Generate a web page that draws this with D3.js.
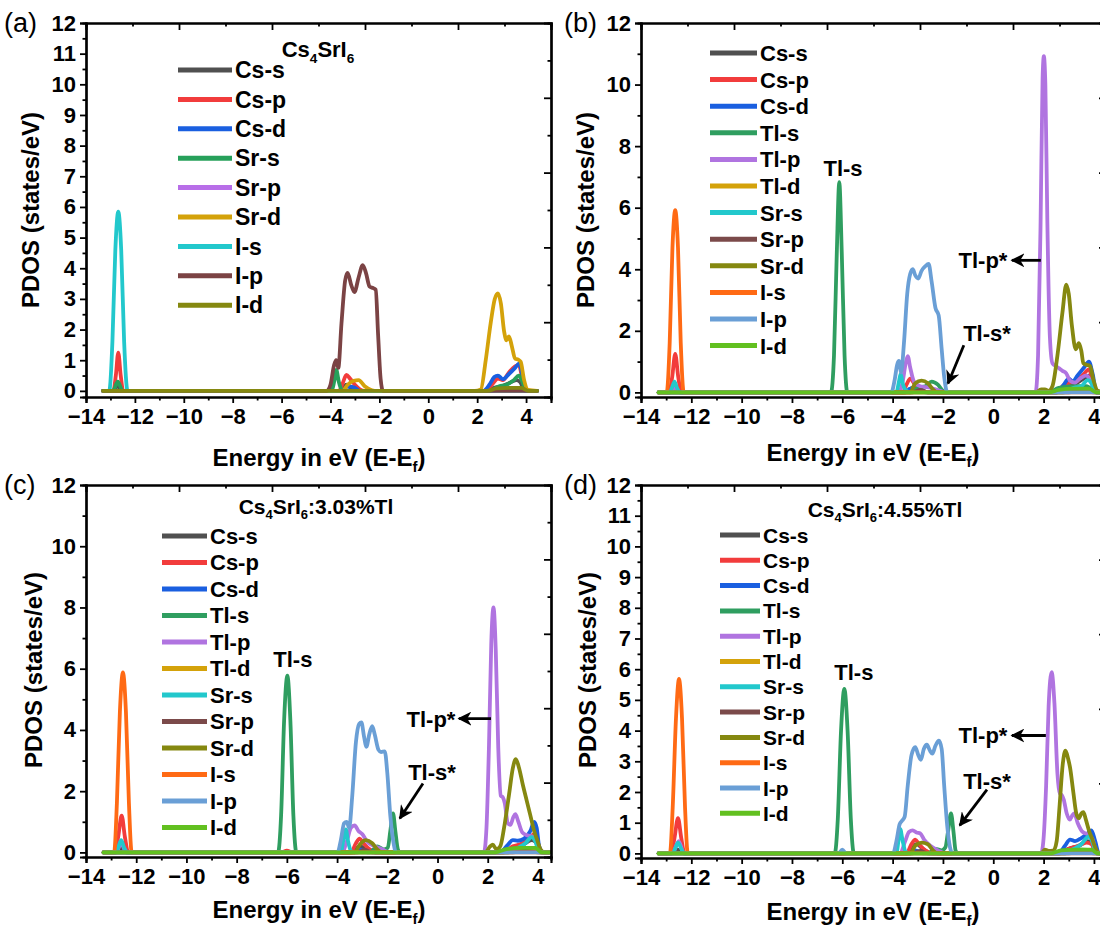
<!DOCTYPE html>
<html><head><meta charset="utf-8">
<script src="https://cdn.jsdelivr.net/npm/d3@7"></script>
<style>body{margin:0;background:#fff} svg text{font-family:Arial,"Liberation Sans",sans-serif}</style>
</head><body><svg id="c" width="1100" height="928"></svg>
<script>
// ---------- categories / tick labels ----------
const energyTicks = [-14,-12,-10,-8,-6,-4,-2,0,2,4];
const energyMinor = [-13,-11,-9,-7,-5,-3,-1,1,3];
const pdosTicks1 = [0,1,2,3,4,5,6,7,8,9,10,11,12];
const pdosTicks2 = [0,2,4,6,8,10,12];
const seriesA = ["Cs-s","Cs-p","Cs-d","Sr-s","Sr-p","Sr-d","I-s","I-p","I-d"];
const colorsA = ["#505050","#f23c3c","#1a5fe0","#26a05a","#b86ee8","#d4a20a","#22c8cc","#7b4344","#858810"];
const seriesT = ["Cs-s","Cs-p","Cs-d","Tl-s","Tl-p","Tl-d","Sr-s","Sr-p","Sr-d","I-s","I-p","I-d"];
const colorsT = ["#505050","#f23c3c","#1a5fe0","#2f9e60","#b074e0","#d4a20a","#22c8cc","#7b4a4a","#858810","#ff6a14","#6a9fd6","#62c020"];

// ---------- panel (a): Cs4SrI6 ----------
const A_CsS = [[-13.3,0],[-12.9,0],[-12.7,0.15],[-12.5,0],[-3.6,0],[-3.35,0.2],[-3.1,0.05],[-2.8,0],[2.3,0],[2.7,0.1],[3.0,0.15],[3.3,0.25],[3.6,0.35],[3.75,0.3],[3.95,0],[4.45,0]];
const A_CsP = [[-13.3,0],[-12.88,0],[-12.78,0.5],[-12.68,1.25],[-12.58,0.5],[-12.48,0],[-3.65,0],[-3.5,0.25],[-3.35,0.52],[-3.2,0.4],[-3.0,0.2],[-2.8,0.05],[-2.6,0],[2.3,0],[2.6,0.2],[2.85,0.4],[3.05,0.35],[3.3,0.6],[3.55,0.8],[3.7,0.85],[3.85,0.4],[4.0,0],[4.45,0]];
const A_CsD = [[-13.3,0],[-3.5,0],[-3.3,0.15],[-3.0,0.1],[-2.8,0],[2.25,0],[2.5,0.2],[2.7,0.45],[2.85,0.5],[3.05,0.38],[3.3,0.55],[3.55,0.75],[3.72,0.9],[3.85,0.5],[4.0,0],[4.45,0]];
const A_SrS = [[-13.3,0],[-12.9,0],[-12.7,0.3],[-12.5,0],[-3.95,0],[-3.85,0.3],[-3.76,0.68],[-3.66,0.3],[-3.55,0.05],[-3.4,0],[2.5,0],[2.9,0.15],[3.2,0.2],[3.5,0.35],[3.7,0.5],[3.85,0.3],[4.0,0],[4.45,0]];
const A_SrP = [[-13.3,0],[2.5,0],[3.0,0.05],[3.7,0.08],[4.0,0],[4.45,0]];
const A_SrD = [[-13.3,0],[-3.5,0],[-3.3,0.2],[-3.05,0.33],[-2.85,0.35],[-2.6,0.15],[-2.3,0.02],[-2.1,0],[1.9,0],[2.15,0.05],[2.35,1.0],[2.55,2.2],[2.72,3.0],[2.85,3.18],[2.97,2.85],[3.1,1.95],[3.2,1.65],[3.3,1.78],[3.42,1.45],[3.55,1.05],[3.68,1.02],[3.78,0.95],[3.92,0.35],[4.08,0.03],[4.45,0]];
const A_IS = [[-13.3,0],[-13.05,0],[-12.92,1.6],[-12.8,4.6],[-12.68,5.85],[-12.56,4.6],[-12.44,1.6],[-12.3,0],[4.45,0]];
const A_IP = [[-13.3,0],[-4.15,0],[-4.0,0.2],[-3.85,0.85],[-3.77,1.0],[-3.68,0.75],[-3.55,2.2],[-3.4,3.6],[-3.3,3.85],[-3.15,3.45],[-3.02,3.22],[-2.85,3.7],[-2.68,4.1],[-2.55,3.85],[-2.4,3.4],[-2.25,3.35],[-2.15,3.3],[-2.05,1.8],[-1.95,0.4],[-1.85,0],[4.45,0]];
const A_ID = [[-13.3,0],[2.4,0],[2.8,0.08],[3.3,0.1],[3.8,0.1],[4.1,0],[4.45,0]];

// ---------- panel (b) ----------
const B_CsS = [[-13.3,0],[-12.85,0],[-12.65,0.12],[-12.45,0],[-3.5,0],[-3.2,0.15],[-2.9,0.1],[-2.6,0],[2.5,0],[2.9,0.15],[3.3,0.3],[3.7,0.5],[3.85,0.55],[4.0,0.2],[4.15,0],[4.45,0]];
const B_CsP = [[-13.3,0],[-12.88,0],[-12.76,0.5],[-12.64,1.25],[-12.52,0.5],[-12.4,0],[-3.6,0],[-3.45,0.25],[-3.3,0.45],[-3.15,0.3],[-2.9,0.1],[-2.6,0],[2.5,0],[2.75,0.2],[3.0,0.3],[3.3,0.35],[3.6,0.6],[3.8,0.75],[3.95,0.4],[4.1,0],[4.45,0]];
const B_CsD = [[-13.3,0],[-3.5,0],[-3.3,0.12],[-3.0,0.08],[-2.7,0],[2.55,0],[2.8,0.25],[3.0,0.45],[3.15,0.35],[3.35,0.55],[3.6,0.8],[3.8,1.0],[3.95,0.6],[4.1,0],[4.45,0]];
const B_TlS = [[-13.3,0],[-6.45,0],[-6.33,1.2],[-6.22,4.5],[-6.12,6.83],[-6.02,4.5],[-5.91,1.2],[-5.8,0],[-3.3,0],[-3.0,0.15],[-2.7,0.2],[-2.45,0.35],[-2.2,0.25],[-2.0,0.05],[-1.8,0],[2.2,0],[2.6,0.15],[3.2,0.2],[3.7,0.2],[4.1,0],[4.45,0]];
const B_TlP = [[-13.3,0],[-12.85,0],[-12.65,0.15],[-12.45,0],[-3.75,0],[-3.6,0.35],[-3.48,0.95],[-3.4,1.18],[-3.3,0.8],[-3.15,0.35],[-2.9,0.2],[-2.5,0.15],[-2.1,0.05],[-1.9,0],[1.68,0],[1.78,1.2],[1.88,5.5],[1.96,10.2],[2.01,10.92],[2.07,10.0],[2.15,5.5],[2.25,1.8],[2.35,0.95],[2.5,0.85],[2.62,0.78],[2.75,0.7],[2.9,0.62],[3.05,0.38],[3.25,0.32],[3.45,0.45],[3.7,0.55],[3.85,0.4],[4.05,0.05],[4.45,0]];
const B_TlD = [[-13.3,0],[2.6,0],[3.2,0.05],[3.8,0.08],[4.1,0],[4.45,0]];
const B_SrS = [[-13.3,0],[-12.88,0],[-12.77,0.15],[-12.67,0.35],[-12.57,0.15],[-12.45,0],[-3.85,0],[-3.75,0.35],[-3.68,0.6],[-3.6,0.3],[-3.45,0.05],[-3.3,0],[2.8,0],[3.2,0.15],[3.5,0.2],[3.75,0.4],[3.9,0.3],[4.05,0],[4.45,0]];
const B_SrP = [[-13.3,0],[-3.2,0],[-2.9,0.08],[-2.6,0],[3.0,0],[3.5,0.05],[4.0,0],[4.45,0]];
const B_SrD = [[-13.3,0],[-3.3,0],[-3.1,0.3],[-2.85,0.38],[-2.6,0.3],[-2.4,0.1],[-2.2,0],[1.7,0],[1.9,0.1],[2.05,0.1],[2.2,0.05],[2.35,0.2],[2.55,1.2],[2.75,2.6],[2.9,3.5],[3.0,3.2],[3.12,2.2],[3.28,1.4],[3.4,1.6],[3.5,1.35],[3.58,0.95],[3.7,0.9],[3.85,0.85],[3.98,0.4],[4.15,0.05],[4.45,0]];
const B_IS = [[-13.3,0],[-12.98,0],[-12.86,1.6],[-12.75,4.7],[-12.64,5.92],[-12.53,4.7],[-12.42,1.6],[-12.3,0],[4.45,0]];
const B_IP = [[-13.3,0],[-4.05,0],[-3.92,0.4],[-3.82,0.9],[-3.75,1.02],[-3.66,0.65],[-3.55,1.6],[-3.42,3.2],[-3.3,3.85],[-3.2,4.0],[-3.1,3.8],[-2.98,3.7],[-2.85,3.95],[-2.7,4.1],[-2.57,4.17],[-2.45,3.6],[-2.3,2.75],[-2.17,2.5],[-2.05,1.4],[-1.95,0.5],[-1.82,0],[4.45,0]];
const B_ID = [[-13.3,0],[2.2,0],[2.6,0.08],[3.2,0.12],[3.8,0.12],[4.1,0],[4.45,0]];

// ---------- panel (c): 3.03% Tl ----------
const C_CsS = [[-13.3,0],[-12.8,0],[-12.6,0.12],[-12.4,0],[-3.4,0],[-3.1,0.2],[-2.8,0.1],[-2.5,0],[2.6,0],[3.0,0.15],[3.4,0.25],[3.75,0.4],[3.9,0.35],[4.1,0],[4.45,0]];
const C_CsP = [[-13.3,0],[-12.85,0],[-12.72,0.5],[-12.58,1.2],[-12.45,0.5],[-12.32,0],[-6.2,0],[-6.0,0.06],[-5.8,0],[-3.45,0],[-3.25,0.3],[-3.1,0.45],[-2.95,0.3],[-2.7,0.1],[-2.4,0],[2.6,0],[3.0,0.2],[3.4,0.3],[3.7,0.5],[3.85,0.6],[4.0,0.3],[4.15,0],[4.45,0]];
const C_CsD = [[-13.3,0],[-3.3,0],[-3.1,0.1],[-2.8,0],[2.5,0],[2.8,0.25],[3.0,0.4],[3.2,0.38],[3.45,0.45],[3.7,0.7],[3.85,1.0],[3.95,0.8],[4.05,0.2],[4.2,0],[4.45,0]];
const C_TlS = [[-13.3,0],[-6.35,0],[-6.23,1.2],[-6.11,4.3],[-5.98,5.77],[-5.86,4.3],[-5.74,1.2],[-5.62,0],[-2.7,0],[-2.4,0.2],[-2.15,0.1],[-1.98,0.15],[-1.88,0.7],[-1.77,1.27],[-1.68,0.7],[-1.58,0.1],[-1.5,0],[2.3,0],[2.8,0.1],[3.5,0.15],[4.0,0.1],[4.2,0],[4.45,0]];
const C_TlP = [[-13.3,0],[-12.8,0],[-12.6,0.3],[-12.4,0],[-3.8,0],[-3.6,0.4],[-3.45,0.8],[-3.3,0.88],[-3.15,0.7],[-3.0,0.6],[-2.8,0.35],[-2.5,0.2],[-2.2,0.1],[-1.9,0],[1.85,0],[1.95,0.8],[2.05,3.5],[2.14,6.8],[2.23,8.0],[2.32,6.6],[2.42,3.4],[2.52,1.85],[2.6,1.8],[2.68,1.6],[2.8,0.95],[2.9,0.9],[3.02,1.15],[3.1,1.25],[3.22,1.0],[3.38,0.65],[3.6,0.55],[3.85,0.5],[3.98,0.25],[4.12,0],[4.45,0]];
const C_TlD = [[-13.3,0],[2.7,0],[3.3,0.05],[3.9,0.08],[4.15,0],[4.45,0]];
const C_SrS = [[-13.3,0],[-12.85,0],[-12.72,0.15],[-12.6,0.4],[-12.48,0.15],[-12.35,0],[-3.85,0],[-3.75,0.4],[-3.65,0.75],[-3.57,0.4],[-3.45,0.05],[-3.3,0],[2.8,0],[3.2,0.15],[3.5,0.3],[3.75,0.5],[3.9,0.35],[4.05,0],[4.45,0]];
const C_SrP = [[-13.3,0],[-3.2,0],[-2.9,0.08],[-2.6,0],[3.0,0],[3.5,0.05],[4.0,0],[4.45,0]];
const C_SrD = [[-13.3,0],[-3.3,0],[-3.1,0.25],[-2.85,0.4],[-2.6,0.3],[-2.4,0.1],[-2.2,0],[1.9,0],[2.1,0.2],[2.2,0.25],[2.35,0.1],[2.5,0.2],[2.65,0.8],[2.85,1.9],[3.0,2.75],[3.12,3.05],[3.25,2.75],[3.4,2.2],[3.55,1.7],[3.7,1.2],[3.85,0.7],[3.97,0.4],[4.1,0.1],[4.25,0],[4.45,0]];
const C_IS = [[-13.3,0],[-12.88,0],[-12.77,1.6],[-12.65,4.6],[-12.53,5.88],[-12.41,4.6],[-12.29,1.6],[-12.18,0],[4.45,0]];
const C_IP = [[-13.3,0],[-3.98,0],[-3.85,0.4],[-3.72,0.95],[-3.62,1.0],[-3.52,0.8],[-3.4,1.8],[-3.25,3.6],[-3.12,4.2],[-3.03,4.25],[-2.93,3.8],[-2.83,3.45],[-2.72,3.85],[-2.6,4.12],[-2.5,3.85],[-2.35,3.35],[-2.25,3.28],[-2.1,3.3],[-2.0,2.6],[-1.88,1.2],[-1.75,0.3],[-1.65,0],[4.45,0]];
const C_ID = [[-13.3,0],[2.3,0],[2.7,0.1],[3.3,0.15],[3.9,0.15],[4.15,0],[4.45,0]];

// ---------- panel (d): 4.55% Tl ----------
const D_CsS = [[-13.3,0],[-12.8,0],[-12.55,0.12],[-12.3,0],[-3.4,0],[-3.05,0.3],[-2.8,0.15],[-2.5,0],[2.6,0],[3.0,0.15],[3.4,0.25],[3.75,0.4],[3.9,0.35],[4.1,0],[4.45,0]];
const D_CsP = [[-13.3,0],[-12.8,0],[-12.67,0.5],[-12.53,1.15],[-12.4,0.5],[-12.27,0],[-3.45,0],[-3.25,0.3],[-3.1,0.45],[-2.95,0.3],[-2.7,0.1],[-2.4,0],[2.6,0],[3.0,0.15],[3.4,0.25],[3.7,0.35],[3.9,0.3],[4.1,0],[4.45,0]];
const D_CsD = [[-13.3,0],[-3.3,0],[-3.1,0.1],[-2.8,0],[2.6,0],[2.85,0.25],[3.05,0.45],[3.25,0.4],[3.5,0.5],[3.75,0.65],[3.9,0.75],[4.05,0.4],[4.2,0],[4.45,0]];
const D_TlS = [[-13.3,0],[-6.3,0],[-6.18,1.1],[-6.05,4.0],[-5.92,5.36],[-5.79,4.0],[-5.66,1.1],[-5.54,0],[-2.6,0],[-2.3,0.15],[-2.05,0.1],[-1.9,0.2],[-1.8,0.7],[-1.68,1.3],[-1.58,0.7],[-1.5,0.1],[-1.42,0],[2.3,0],[2.8,0.1],[3.5,0.12],[4.0,0.1],[4.2,0],[4.45,0]];
const D_TlP = [[-13.3,0],[-12.75,0],[-12.5,0.4],[-12.3,0],[-3.7,0],[-3.5,0.4],[-3.35,0.7],[-3.2,0.75],[-3.05,0.68],[-2.9,0.65],[-2.75,0.45],[-2.5,0.25],[-2.2,0.1],[-1.9,0],[1.9,0],[2.0,0.5],[2.1,2.2],[2.2,4.8],[2.32,5.9],[2.43,4.9],[2.55,2.6],[2.65,1.95],[2.72,1.9],[2.8,1.75],[2.92,1.3],[3.04,1.1],[3.15,1.25],[3.22,1.3],[3.35,1.0],[3.55,0.7],[3.8,0.6],[3.95,0.45],[4.1,0.05],[4.45,0]];
const D_TlD = [[-13.3,0],[2.7,0],[3.3,0.05],[3.9,0.08],[4.15,0],[4.45,0]];
const D_SrS = [[-13.3,0],[-12.8,0],[-12.65,0.15],[-12.53,0.35],[-12.4,0.15],[-12.27,0],[-3.85,0],[-3.77,0.4],[-3.7,0.8],[-3.6,0.4],[-3.48,0.05],[-3.3,0],[2.8,0],[3.2,0.15],[3.5,0.3],[3.8,0.55],[3.95,0.35],[4.1,0],[4.45,0]];
const D_SrP = [[-13.3,0],[-3.2,0],[-2.9,0.08],[-2.6,0],[3.0,0],[3.5,0.05],[4.0,0],[4.45,0]];
const D_SrD = [[-13.3,0],[-3.3,0],[-3.1,0.25],[-2.85,0.35],[-2.6,0.3],[-2.4,0.1],[-2.2,0],[1.9,0],[2.05,0.12],[2.2,0.08],[2.4,0.1],[2.52,0.4],[2.64,1.6],[2.76,2.9],[2.87,3.35],[2.97,3.1],[3.05,2.8],[3.18,2.0],[3.3,1.3],[3.4,1.15],[3.5,1.3],[3.58,1.34],[3.68,1.1],[3.82,0.7],[3.92,0.5],[4.05,0.2],[4.2,0],[4.45,0]];
const D_IS = [[-13.3,0],[-12.85,0],[-12.74,1.5],[-12.61,4.4],[-12.49,5.68],[-12.37,4.4],[-12.25,1.5],[-12.14,0],[4.45,0]];
const D_IP = [[-13.3,0],[-6.15,0],[-6.0,0.12],[-5.85,0],[-3.98,0],[-3.85,0.4],[-3.72,0.95],[-3.62,1.07],[-3.52,1.2],[-3.4,2.2],[-3.25,3.2],[-3.1,3.46],[-2.98,3.2],[-2.88,3.05],[-2.76,3.4],[-2.64,3.54],[-2.52,3.35],[-2.42,3.25],[-2.3,3.5],[-2.16,3.67],[-2.05,3.4],[-1.95,2.2],[-1.83,0.9],[-1.72,0.2],[-1.62,0],[4.45,0]];
const D_ID = [[-13.3,0],[2.3,0],[2.7,0.1],[3.3,0.12],[3.9,0.12],[4.15,0],[4.45,0]];

// ---------- annotations (data coordinates) ----------
const annB = [{t:"Tl-s",x:-5.97,y:7.28},{t:"Tl-p*",x:-0.41,y:4.29},{t:"Tl-s*",x:-0.25,y:1.92}];
const arrB = [{x1:1.89,y1:4.29,x2:0.74,y2:4.29},{x1:-1.17,y1:1.53,x2:-1.8,y2:0.29}];
const annC = [{t:"Tl-s",x:-5.76,y:6.33},{t:"Tl-p*",x:-0.26,y:4.37},{t:"Tl-s*",x:-0.22,y:2.61}];
const arrC = [{x1:2.13,y1:4.37,x2:0.85,y2:4.37},{x1:-0.58,y1:2.25,x2:-1.5,y2:1.11}];
const annD = [{t:"Tl-s",x:-5.54,y:5.89},{t:"Tl-p*",x:-0.41,y:3.84},{t:"Tl-s*",x:-0.25,y:2.37}];
const arrD = [{x1:2.09,y1:3.84,x2:0.74,y2:3.84},{x1:-0.25,y1:2.08,x2:-1.33,y2:0.91}];

// ---------- drawing ----------
const svg = d3.select("#c");
const defs = svg.append("defs");
defs.append("marker").attr("id","ah").attr("viewBox","0 0 10 10").attr("refX",9).attr("refY",5)
  .attr("markerWidth",5).attr("markerHeight",5).attr("orient","auto-start-reverse")
  .append("path").attr("d","M0,0 L10,5 L0,10 L3,5 Z").attr("fill","#000");

const FONT = 'Arial,"Liberation Sans",sans-serif';

function subText(sel, parts, size){
  parts.forEach(p=>{
    const ts = sel.append("tspan").text(p[0]);
    if(p[1]){ ts.attr("font-size",size*0.62).attr("dy",size*0.25); }
    else if(p[2]){ ts.attr("dy",-size*0.25); }
  });
}

function drawPanel(cfg){
  const g = svg.append("g");
  const x = d3.scaleLinear().domain([-14, cfg.xmax]).range([cfg.left, cfg.right]);
  const y = d3.scaleLinear().domain([cfg.ymin, 12]).range([cfg.bottom, cfg.top]);
  const clipId = "clip"+cfg.id;
  defs.append("clipPath").attr("id",clipId).append("rect")
    .attr("x",cfg.left).attr("y",cfg.top-2).attr("width",cfg.right-cfg.left).attr("height",cfg.bottom-cfg.top+2);

  const line = d3.line().x(d=>x(d[0])).y(d=>y(d[1])).curve(d3.curveMonotoneX);
  const lg = g.append("g").attr("clip-path",`url(#${clipId})`);
  cfg.curves.forEach((c,i)=>{
    lg.append("path").attr("d",line(c)).attr("fill","none").attr("stroke",cfg.colors[i])
      .attr("stroke-width",3.8).attr("stroke-linejoin","round").attr("stroke-linecap","round");
  });

  const axStyle = s => { s.select(".domain").attr("stroke","#000").attr("stroke-width",2.2);
    s.selectAll(".tick line").attr("stroke","#000").attr("stroke-width",1.8);
    s.selectAll("text").attr("font-family",FONT).attr("font-weight","bold").attr("font-size",22).attr("fill","#000"); };
  g.append("g").attr("transform",`translate(0,${cfg.bottom})`)
    .call(d3.axisBottom(x).tickValues(energyMinor).tickSize(3.5).tickFormat("")).call(axStyle);
  g.append("g").attr("transform",`translate(0,${cfg.bottom})`)
    .call(d3.axisBottom(x).tickValues(energyTicks).tickSize(6).tickPadding(5).tickFormat(d3.format("d"))).call(axStyle);
  const yMajor = cfg.yStep===1 ? pdosTicks1 : pdosTicks2;
  const yMinor = d3.range(0.5*cfg.yStep, 12, cfg.yStep);
  g.append("g").attr("transform",`translate(${cfg.left},0)`)
    .call(d3.axisLeft(y).tickValues(yMinor).tickSize(3.5).tickFormat("")).call(axStyle);
  g.append("g").attr("transform",`translate(${cfg.left},0)`)
    .call(d3.axisLeft(y).tickValues(yMajor).tickSize(6).tickPadding(4).tickFormat(d3.format("d"))).call(axStyle);
  // top / right frame with their own tick scales
  const xt = d3.scaleLinear().domain([0,5]).range([cfg.left, cfg.right]);
  g.append("g").attr("transform",`translate(0,${cfg.top})`)
    .call(d3.axisBottom(xt).tickValues(d3.range(0.5,5,1)).tickSize(3.5).tickFormat("")).call(axStyle);
  g.append("g").attr("transform",`translate(0,${cfg.top})`)
    .call(d3.axisBottom(xt).tickValues([1,2,3,4]).tickSize(7).tickFormat("")).call(axStyle);
  const yr = d3.scaleLinear().domain([0,10]).range([cfg.bottom, cfg.top]);
  g.append("g").attr("transform",`translate(${cfg.right},0)`)
    .call(d3.axisLeft(yr).tickValues([1,3,5,7,9]).tickSize(3.5).tickFormat("")).call(axStyle);
  g.append("g").attr("transform",`translate(${cfg.right},0)`)
    .call(d3.axisLeft(yr).tickValues([2,4,6,8]).tickSize(7).tickFormat("")).call(axStyle);

  const xl = g.append("text").attr("x",cfg.xTitle[0]).attr("y",cfg.xTitle[1]).attr("text-anchor","middle")
    .attr("font-family",FONT).attr("font-weight","bold").attr("font-size",24);
  subText(xl, [["Energy in eV (E-E"],["f",true],[")",false,true]], 24);
  g.append("text").attr("transform",`translate(${cfg.yTitle[0]},${cfg.yTitle[1]}) rotate(-90)`)
    .attr("text-anchor","middle").attr("dy","0.36em").attr("font-family",FONT).attr("font-weight","bold").attr("font-size",24)
    .text("PDOS (states/eV)");
  g.append("text").attr("x",cfg.tag[0]).attr("y",cfg.tag[1]).attr("font-family",FONT)
    .attr("font-size",27).text(cfg.tagText);

  if(cfg.title){
    const t = g.append("text").attr("x",cfg.title[0]).attr("y",cfg.title[1]).attr("text-anchor","middle")
      .attr("font-family",FONT).attr("font-weight","bold").attr("font-size",cfg.titleSize);
    subText(t, cfg.titleParts, cfg.titleSize);
  }
  cfg.names.forEach((n,i)=>{
    const yy = cfg.leg.y0 + i*cfg.leg.dy;
    g.append("line").attr("x1",cfg.leg.x1).attr("x2",cfg.leg.x2).attr("y1",yy).attr("y2",yy)
      .attr("stroke",cfg.colors[i]).attr("stroke-width",5);
    g.append("text").attr("x",cfg.leg.x2+3).attr("y",yy).attr("dy","0.36em").attr("font-family",FONT)
      .attr("font-weight","bold").attr("font-size",cfg.leg.fs).text(n);
  });
  (cfg.ann||[]).forEach(a=>{
    g.append("text").attr("x",x(a.x)).attr("y",y(a.y)).attr("dy","0.36em").attr("text-anchor","middle")
      .attr("font-family",FONT).attr("font-weight","bold").attr("font-size",22).text(a.t);
  });
  (cfg.arr||[]).forEach(a=>{
    g.append("line").attr("x1",x(a.x1)).attr("y1",y(a.y1)).attr("x2",x(a.x2)).attr("y2",y(a.y2))
      .attr("stroke","#000").attr("stroke-width",2.8).attr("marker-end","url(#ah)");
  });
}

const tParts = (extra)=>[["Cs"],["4",true],["SrI",false,true],["6",true],[extra,false,true]];

drawPanel({id:"a", left:86, right:551, xmax:5.02, top:23, bottom:397, ymin:-0.2, yStep:1,
  curves:[A_CsS,A_CsP,A_CsD,A_SrS,A_SrP,A_SrD,A_IS,A_IP,A_ID], names:seriesA, colors:colorsA,
  xTitle:[319,466], yTitle:[30,210], tag:[4,32], tagText:"(a)",
  title:[318,57], titleSize:22, titleParts:[["Cs"],["4",true],["SrI",false,true],["6",true]],
  leg:{x1:178,x2:232,y0:70,dy:29.4,fs:23}});

drawPanel({id:"b", left:641, right:1106, xmax:4.48, top:23, bottom:397, ymin:-0.15, yStep:2,
  curves:[B_CsS,B_CsP,B_CsD,B_TlS,B_TlP,B_TlD,B_SrS,B_SrP,B_SrD,B_IS,B_IP,B_ID], names:seriesT, colors:colorsT,
  xTitle:[873,461], yTitle:[585,210], tag:[564,32], tagText:"(b)",
  leg:{x1:710,x2:757,y0:53,dy:26.6,fs:22}, ann:annB, arr:arrB});

drawPanel({id:"c", left:86, right:551, xmax:4.52, top:485, bottom:857, ymin:-0.15, yStep:2,
  curves:[C_CsS,C_CsP,C_CsD,C_TlS,C_TlP,C_TlD,C_SrS,C_SrP,C_SrD,C_IS,C_IP,C_ID], names:seriesT, colors:colorsT,
  xTitle:[319,918], yTitle:[33,670], tag:[4,494], tagText:"(c)",
  title:[316,514], titleSize:21, titleParts:tParts(":3.03%Tl"),
  leg:{x1:162,x2:207,y0:536,dy:26.5,fs:22}, ann:annC, arr:arrC});

drawPanel({id:"d", left:641, right:1106, xmax:4.48, top:485, bottom:858, ymin:-0.15, yStep:1,
  curves:[D_CsS,D_CsP,D_CsD,D_TlS,D_TlP,D_TlD,D_SrS,D_SrP,D_SrD,D_IS,D_IP,D_ID], names:seriesT, colors:colorsT,
  xTitle:[873,920], yTitle:[587,670], tag:[564,494], tagText:"(d)",
  title:[885,517], titleSize:21, titleParts:tParts(":4.55%Tl"),
  leg:{x1:720,x2:760,y0:535,dy:25.3,fs:21}, ann:annD, arr:arrD});
</script></body></html>
